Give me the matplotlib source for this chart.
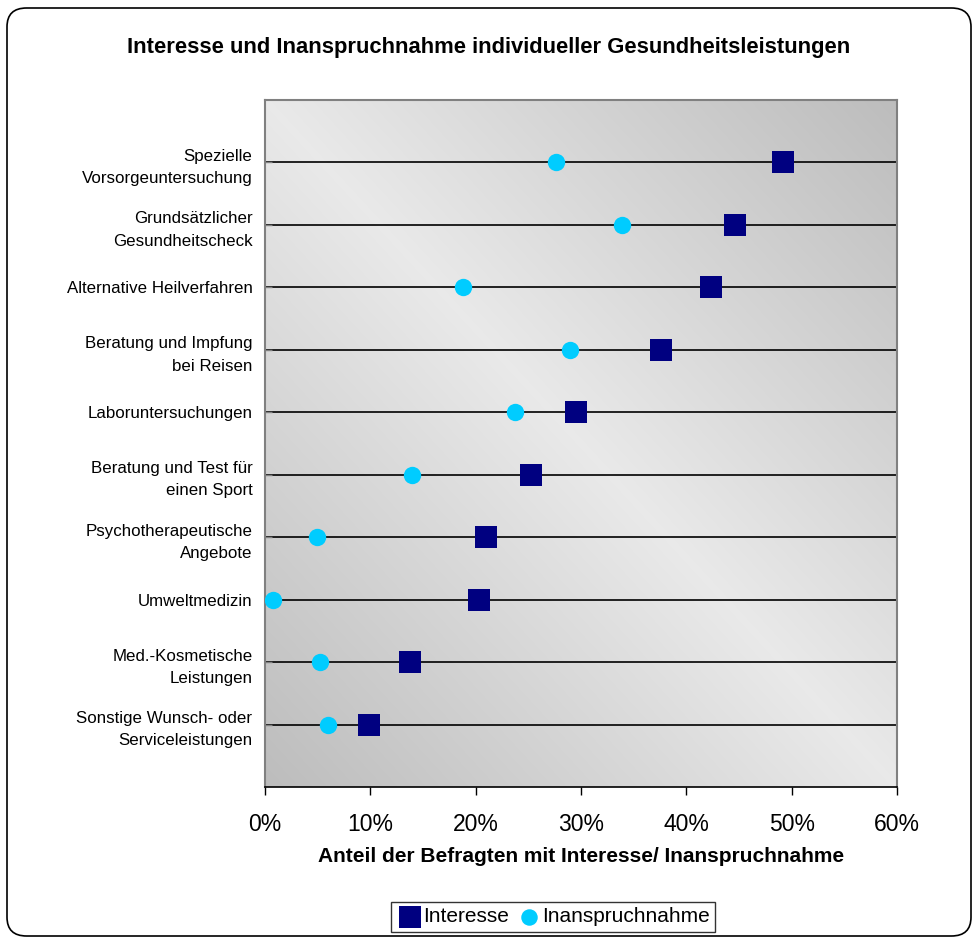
import numpy as np
import matplotlib.pyplot as plt
from matplotlib.patches import FancyBboxPatch
from matplotlib.ticker import PercentFormatter

plt.rcParams['font.family'] = ['Liberation Sans', 'DejaVu Sans']

# Categories (top to bottom) and values in percent
categories = [
    'Spezielle\nVorsorgeuntersuchung',
    'Grundsätzlicher\nGesundheitscheck',
    'Alternative Heilverfahren',
    'Beratung und Impfung\nbei Reisen',
    'Laboruntersuchungen',
    'Beratung und Test für\neinen Sport',
    'Psychotherapeutische\nAngebote',
    'Umweltmedizin',
    'Med.-Kosmetische\nLeistungen',
    'Sonstige Wunsch- oder\nServiceleistungen',
]
interesse = [49.2, 44.6, 42.3, 37.6, 29.5, 25.3, 21.0, 20.3, 13.8, 9.9]
inanspruchnahme = [27.6, 33.9, 18.8, 29.0, 23.7, 14.0, 4.9, 0.8, 5.2, 6.0]
x_ticks = [0, 10, 20, 30, 40, 50, 60]

fig = plt.figure(figsize=(9.78, 9.41), dpi=100)
fig.patch.set_facecolor('white')

# rounded outer border
border = FancyBboxPatch((7 / 978, 5 / 941), 964 / 978, 928 / 941,
                        boxstyle='round,pad=0,rounding_size=0.02',
                        transform=fig.transFigure, facecolor='none',
                        edgecolor='black', linewidth=1.2)
fig.patches.append(border)

ax = fig.add_axes([265 / 978, 1 - 787 / 941, 632 / 978, 687 / 941])

# diagonal gradient background
u, v = np.meshgrid(np.linspace(0, 1, 300), np.linspace(1, 0, 300))
t = np.abs(u + v - 1)
light, dark = 0.915, 0.74
shade = light + (dark - light) * t
bg = np.dstack([shade, shade, shade])
ax.imshow(bg, extent=[0, 1, 0, 1], transform=ax.transAxes, aspect='auto',
          interpolation='bilinear', zorder=0)

y = np.arange(1, len(categories) + 1)

for yy in y:
    ax.axhline(yy, color='black', linewidth=1.2, zorder=1)

ax.scatter(interesse, y, marker='s', s=16 ** 2, color='#000080',
           zorder=3, label='Interesse', linewidths=0)
ax.scatter(inanspruchnahme, y, marker='o', s=12.5 ** 2, color='#00CCFF',
           zorder=3, label='Inanspruchnahme', linewidths=0)

ax.set_xlim(0, 60)
ax.set_ylim(len(categories) + 1, 0)
ax.set_xticks(x_ticks)
ax.xaxis.set_major_formatter(PercentFormatter(decimals=0))
ax.set_yticks(y)
ax.set_yticklabels(categories, fontsize=12.2, linespacing=1.6)
ax.tick_params(axis='x', labelsize=16.5, length=6, width=1, direction='out',
               pad=13, color='black')
ax.tick_params(axis='y', length=5, width=1, direction='in', pad=9,
               color='#808080')

for side, sp in ax.spines.items():
    sp.set_color('#808080')
    sp.set_linewidth(1.5)
ax.spines['bottom'].set_color('black')
ax.spines['bottom'].set_linewidth(1.2)

ax.set_xlabel('Anteil der Befragten mit Interesse/ Inanspruchnahme',
              fontsize=15, fontweight='bold', labelpad=8)

fig.text(0.5, 1 - 47 / 941, 'Interesse und Inanspruchnahme individueller Gesundheitsleistungen',
         ha='center', va='center', fontsize=15.8, fontweight='bold')

leg = ax.legend(loc='center', bbox_to_anchor=(553 / 978, 1 - 917 / 941),
                bbox_transform=fig.transFigure, ncol=2, frameon=True,
                fancybox=False, fontsize=15, handletextpad=0.0,
                columnspacing=0.3, borderpad=0.25, handlelength=1.3,
                markerscale=0.95)
leg.get_frame().set_edgecolor('black')
leg.get_frame().set_linewidth(1.0)

fig.savefig('out.png', dpi=100)
